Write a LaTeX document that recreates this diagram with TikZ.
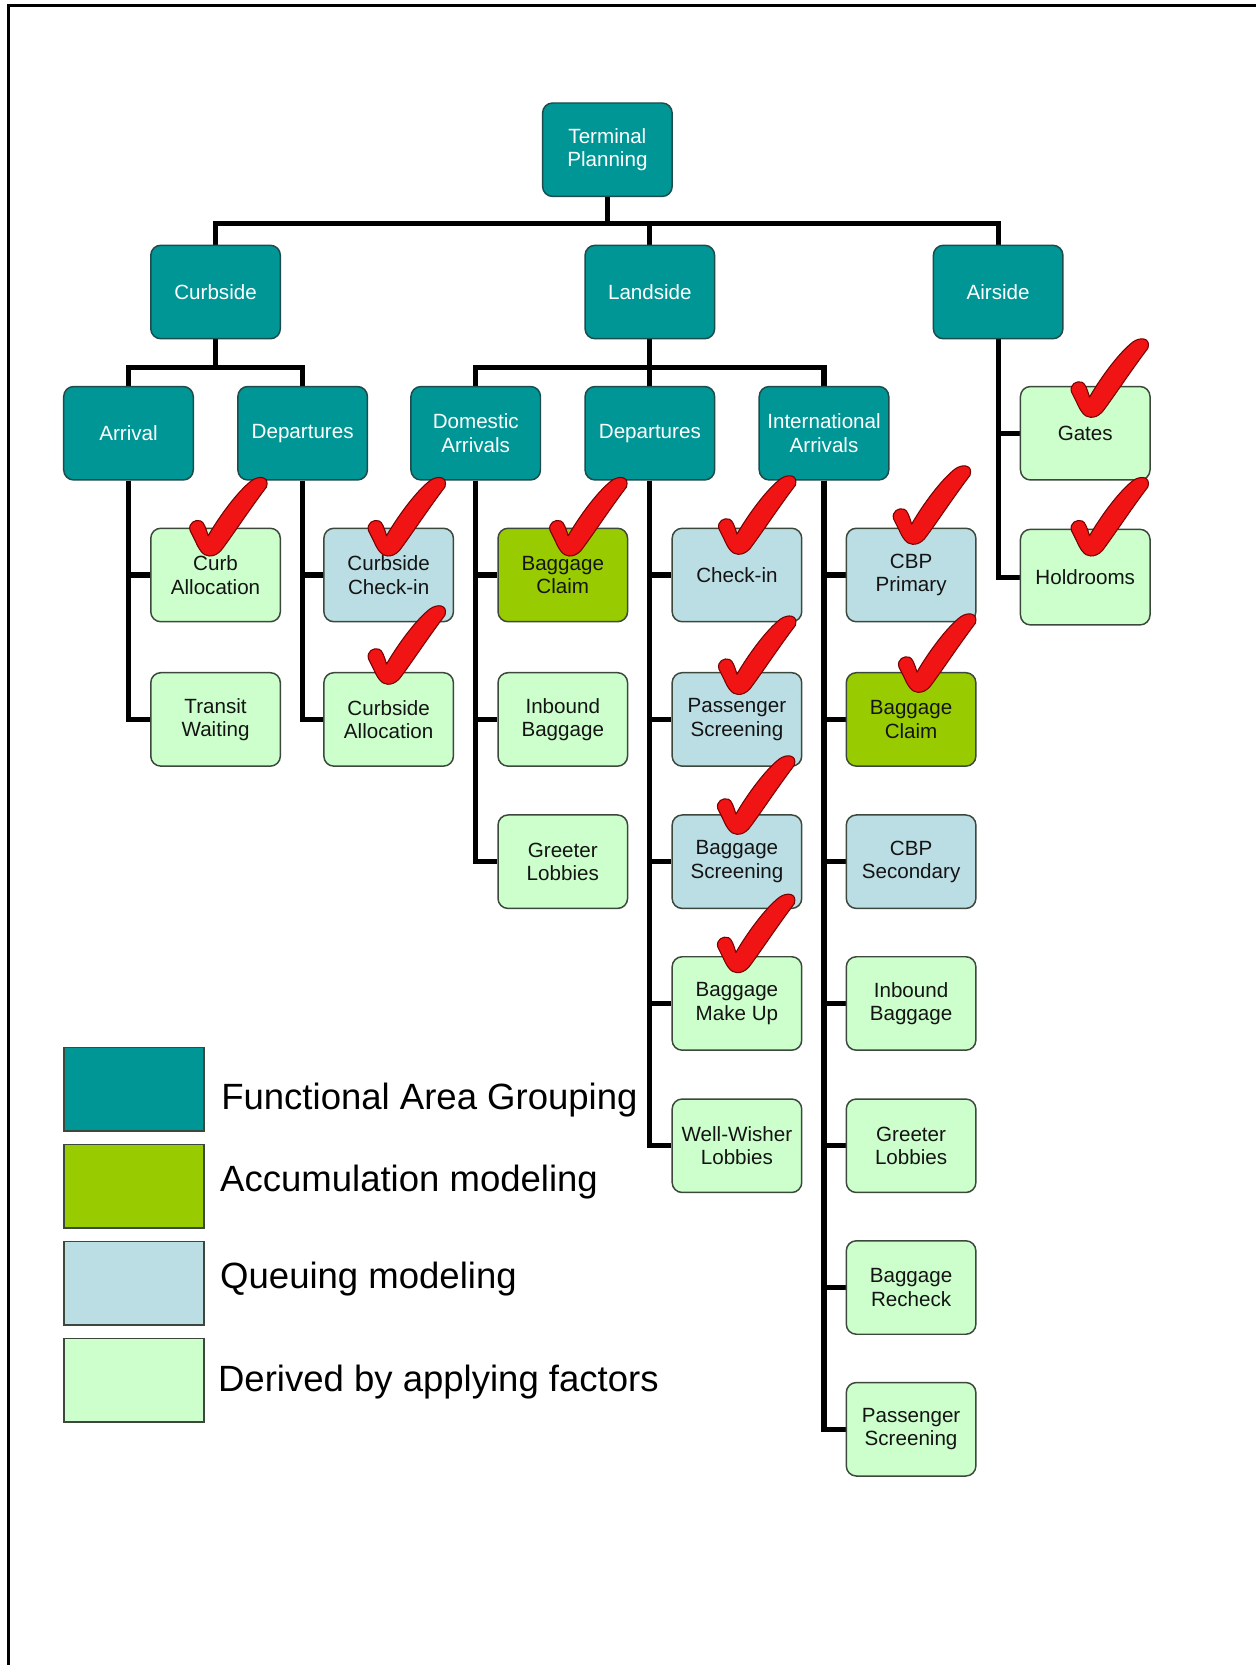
\documentclass[tikz,border=0pt]{standalone}
\usepackage{fontspec}
\setmainfont{Liberation Sans}
\usetikzlibrary{backgrounds}
\definecolor{tealfill}{RGB}{0,150,150}
\definecolor{tealline}{RGB}{30,75,75}
\definecolor{accfill}{RGB}{153,204,0}
\definecolor{quefill}{RGB}{187,222,228}
\definecolor{derfill}{RGB}{204,255,204}
\definecolor{boxline}{RGB}{60,72,60}
\definecolor{txtdark}{RGB}{20,20,20}
\definecolor{chkred}{RGB}{240,20,20}
\definecolor{chkline}{RGB}{120,0,0}
\newcommand\boxfont{\fontsize{9.7}{11}\selectfont}
\newcommand\legfont{\fontsize{17.2}{20}\selectfont}
\tikzset{
  box/.style={rounded corners=4.7pt, minimum width=61pt, minimum height=44pt,
    inner sep=0pt, align=center, font=\boxfont, line width=0.7pt},
  grp/.style={box, fill=tealfill, draw=tealline, text=white},
  acc/.style={box, fill=accfill, draw=boxline, text=txtdark},
  que/.style={box, fill=quefill, draw=boxline, text=txtdark},
  der/.style={box, fill=derfill, draw=boxline, text=txtdark},
  conn/.style={line width=2.4pt, line join=miter, draw=black},
  legsq/.style={draw=boxline, line width=0.7pt, minimum width=65.8pt,
    minimum height=39.3pt, inner sep=0pt},
  legtxt/.style={anchor=base west, inner sep=0pt, font=\legfont, text=black},
  chk/.pic={
    \path[fill=chkred, draw=chkline, line width=0.5pt, line join=round]
      (1,4) .. controls (-5,4) and (-9,-3) .. (-12,-10)
      -- (-17,-20)
      .. controls (-19,-27) and (-12,-31) .. (-7,-29)
      .. controls (-4,-28) and (-2,-22) .. (0,-15)
      .. controls (11,-34) and (28,-57) .. (41,-67)
      .. controls (48,-72) and (58,-71) .. (55,-61)
      .. controls (39,-40) and (22,-14) .. (12,-1)
      .. controls (8,3) and (5,4) .. (1,4) -- cycle;
  }
}
\begin{document}
\begin{tikzpicture}[x=0.5pt, y=-0.5pt]
\useasboundingbox (0,0) rectangle (1182,1568);

% level 1 and 2
\node[grp] (tp) at (572,141) {Terminal\\Planning};
\node[grp] (curb) at (203,275) {Curbside};
\node[grp] (land) at (612,275) {Landside};
\node[grp] (air) at (940,275) {Airside};

% level 3
\node[grp] (arr) at (121,408) {Arrival};
\node[grp] (cdep) at (285,408) {Departures};
\node[grp] (dom) at (448,408) {Domestic\\Arrivals};
\node[grp] (ldep) at (612,408) {Departures};
\node[grp] (intl) at (776,408) {International\\Arrivals};

% curbside children
\node[der] (ca) at (203,541.5) {Curb\\Allocation};
\node[der] (tw) at (203,677.5) {Transit\\Waiting};
\node[que] (cci) at (366,541.5) {Curbside\\Check-in};
\node[der] (cal) at (366,677.5) {Curbside\\Allocation};

% domestic arrivals children
\node[acc] (dbc) at (530,541.5) {Baggage\\Claim};
\node[der] (dib) at (530,677.5) {Inbound\\Baggage};
\node[der] (dgl) at (530,811.5) {Greeter\\Lobbies};

% landside departures children
\node[que] (lci) at (694,541.5) {Check-in};
\node[que] (lps) at (694,677.5) {Passenger\\Screening};
\node[que] (lbs) at (694,811.5) {Baggage\\Screening};
\node[der] (lbm) at (694,945) {Baggage\\Make Up};
\node[der] (lww) at (694,1079) {Well-Wisher\\Lobbies};

% international arrivals children
\node[que] (icp) at (858,541.5) {CBP\\Primary};
\node[acc] (ibc) at (858,677.5) {Baggage\\Claim};
\node[que] (ics) at (858,811.5) {CBP\\Secondary};
\node[der] (iib) at (858,945) {Inbound\\Baggage};
\node[der] (igl) at (858,1079) {Greeter\\Lobbies};
\node[der] (ibr) at (858,1212.5) {Baggage\\Recheck};
\node[der] (ips) at (858,1346) {Passenger\\Screening};

% airside children
\node[der] (gates) at (1022,408) {Gates};
\node[der, minimum height=45pt] (hold) at (1022,543.5) {Holdrooms};

% connectors
\begin{scope}[on background layer]
\fill[white] (0,0) rectangle (1182,1568);
\draw[line width=1.25pt] (8,1570) -- (8,5) -- (1184,5);
\draw[conn] (tp.south) -- ++(0,25) -| (curb.north);
\draw[conn] (tp.south) -- ++(0,25) -| (air.north);
\draw[conn] (tp.south) -- ++(0,25) -| (land.north);
\draw[conn] (curb.south) -- ++(0,26) -| (arr.north);
\draw[conn] (curb.south) -- ++(0,26) -| (cdep.north);
\draw[conn] (land.south) -- ++(0,26) -| (dom.north);
\draw[conn] (land.south) -- ++(0,26) -| (intl.north);
\draw[conn] (land.south) -- (ldep.north);
\foreach \p/\c in {arr/ca, arr/tw, cdep/cci, cdep/cal,
    dom/dbc, dom/dib, dom/dgl,
    ldep/lci, ldep/lps, ldep/lbs, ldep/lbm, ldep/lww,
    intl/icp, intl/ibc, intl/ics, intl/iib, intl/igl, intl/ibr, intl/ips,
    air/gates, air/hold}
  \draw[conn] (\p.south) |- (\c.west);
\end{scope}

% legend
\node[legsq, fill=tealfill] (lg1) at (126.2,1025.7) {};
\node[legsq, fill=accfill] (lg2) at (126.2,1117.1) {};
\node[legsq, fill=quefill] (lg3) at (126.2,1208.5) {};
\node[legsq, fill=derfill] (lg4) at (126.2,1300) {};
\node[legtxt] (lt1) at (208,1044.8) {Functional Area Grouping};
\node[legtxt] (lt2) at (207,1122.3) {Accumulation modeling};
\node[legtxt] (lt3) at (207,1213.4) {Queuing modeling};
\node[legtxt] (lt4) at (205,1310.7) {Derived by applying factors};

% check marks
\foreach \cx/\cy in {196/519.6, 364/519.6, 364/640.4, 535/519.6,
    694/518, 694/650, 693/781.7, 693/912,
    858.5/508.6, 863.5/648, 1026/389, 1026/519.6}
  \pic at (\cx,\cy) {chk};
\end{tikzpicture}
\end{document}
